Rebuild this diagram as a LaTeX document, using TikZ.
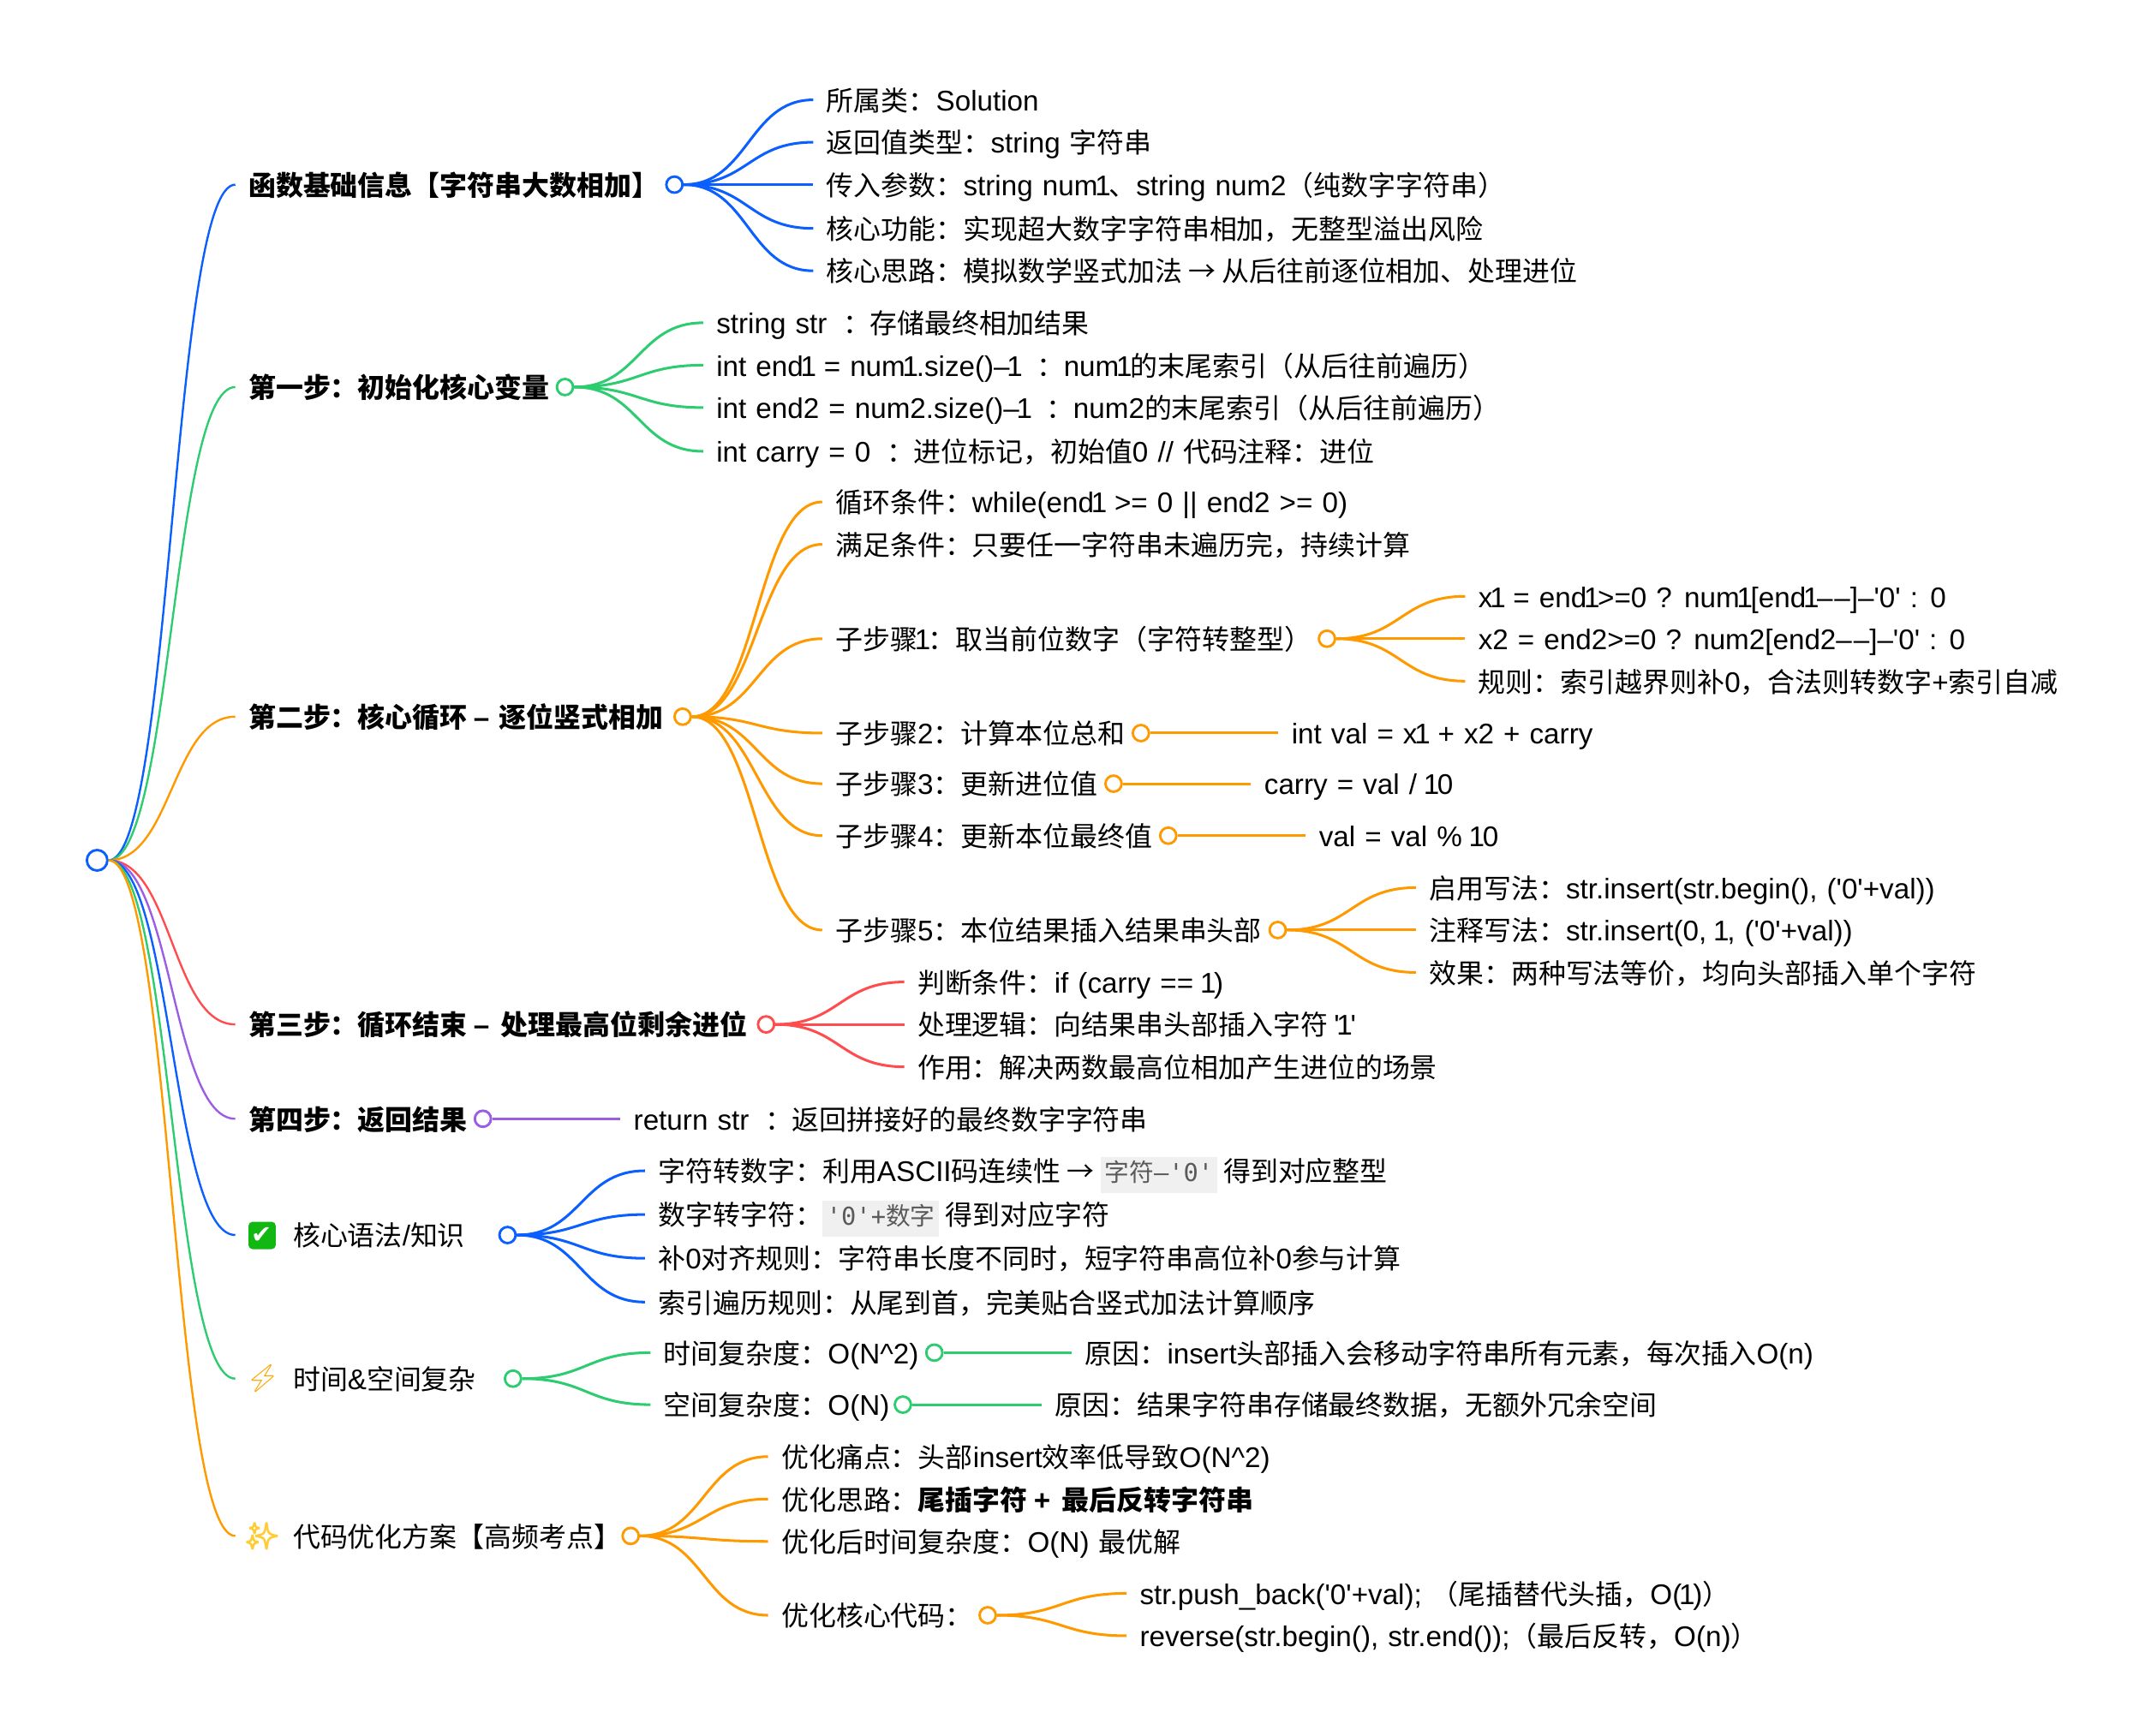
\documentclass[tikz,border=0pt]{standalone}
\usepackage{fontspec}
\usepackage{xcolor}
\usetikzlibrary{calc}
\newfontface\latr{Liberation Sans}[Scale=1.04,WordSpace=1.2]
\newfontface\latb{Liberation Sans Bold}[Scale=1.04,WordSpace=1.2]
\newfontface\monor{DejaVu Sans Mono}
\newfontfamily\cjkr{Noto Sans CJK SC}
\newfontfamily\emojif{Noto Emoji}
\newfontfamily\emojib{Noto Emoji}[FakeBold=4.5]
\newfontfamily\dejav{DejaVu Sans}
\def\cjkf{\cjkr}
\def\latf{\latr}
\newXeTeXintercharclass\cjkclass
\newXeTeXintercharclass\oneclass
\newcount\cnt
\newcommand\markrange[2]{\cnt=#1\relax
  \loop\XeTeXcharclass\cnt=\cjkclass\relax
  \ifnum\cnt<#2\relax\advance\cnt by 1\repeat}
\markrange{"3000}{"303F}
\markrange{"4E00}{"9FFF}
\markrange{"FF00}{"FFEF}
\XeTeXcharclass"2192=\cjkclass
\XeTeXcharclass`1=\oneclass
\XeTeXinterchartoks 0 \cjkclass={\cjkf}
\XeTeXinterchartoks 4095 \cjkclass={\cjkf}
\XeTeXinterchartoks \cjkclass 0={\latf}
\XeTeXinterchartoks 4095 0={\latf}
\XeTeXinterchartoks 0 \oneclass={\kern-2pt }
\XeTeXinterchartoks \cjkclass \oneclass={\latf\kern-2pt }
\XeTeXinterchartoks 4095 \oneclass={\latf\kern-2pt }
\XeTeXinterchartoks \oneclass 0={\kern-1.5pt }
\XeTeXinterchartoks \oneclass \cjkclass={\kern-1.5pt \cjkf}
\XeTeXinterchartoks \oneclass 4095={\kern-1.5pt }
\XeTeXinterchartoks \oneclass \oneclass={\kern-3.5pt }
\XeTeXinterchartokenstate=1
\newcommand\bld[1]{{\def\cjkf{\cjkr\bfseries}\def\latf{\latb}#1}}
\newcommand\dd{–\kern1.2pt–}
\newcommand\cc{\kern5pt：\kern-5pt{} }
\definecolor{cblue}{HTML}{0B5FFF}
\definecolor{cgreen}{HTML}{2ECC71}
\definecolor{corange}{HTML}{FF9900}
\definecolor{cred}{HTML}{FF4D4F}
\definecolor{cpurple}{HTML}{9B5DE5}
\definecolor{codebg}{HTML}{F0F0F0}
\definecolor{codefg}{HTML}{5A5A5A}
\definecolor{okgreen}{HTML}{12B812}
\definecolor{boltc}{HTML}{FFA500}
\definecolor{sparkc}{HTML}{FFCC33}
\newcommand\code[1]{\begingroup\setlength\fboxsep{3pt}\colorbox{codebg}{\color{codefg}\def\latf{\monor}\fontsize{18}{20}\selectfont\rule[-5pt]{0pt}{20pt}#1}\endgroup}
\newcommand\lnk[3]{\draw[#1] let \p1=(#2),\p2=(#3),\n1={.5*(\x1+\x2)} in (\p1) .. controls (\n1,\y1) and (\n1,\y2) .. (\p2);}
\tikzset{
  x=1pt,y=-1pt,
  txt/.style={anchor=west,inner ysep=0pt,inner xsep=9.5pt,text height=16pt,text depth=0pt,font=\fontsize{20}{24}\selectfont\latr},
  dot/.style={circle,draw,fill=white,line width=1.8pt,inner sep=0pt,minimum size=11.8pt},
  stem/.style={line width=1.5pt},
  twig/.style={line width=1.9pt},
  icon/.style={inner sep=0pt},
}
\begin{document}
\begin{tikzpicture}
\useasboundingbox (0,0) rectangle (1568,1268.7);
% coordinates of main branch ends
\coordinate (c6) at (172,903);
\coordinate (c7) at (172,1008);
\coordinate (c8) at (172,1123);
% main labels
\node[txt] (m1) at (172,135) {\bld{函数基础信息【字符串大数相加】}};
\node[txt] (m2) at (172,283) {\bld{第一步：初始化核心变量}};
\node[txt] (m3) at (172,524) {\bld{第二步：核心循环 – 逐位竖式相加}};
\node[txt] (m4) at (172,749) {\bld{第三步：循环结束 – 处理最高位剩余进位}};
\node[txt] (m5) at (172,818) {\bld{第四步：返回结果}};
\node[icon,rounded corners=3pt,fill=okgreen,text=white,minimum size=20pt,font=\fontsize{18}{18}\selectfont] (i6) at (191.6,903.3) {\def\latf{\dejav}✔};
\node[icon,text=boltc,font=\fontsize{20}{20}\selectfont] (i7) at (192,1008) {\def\latf{\emojif}⚡};
\node[icon,text=sparkc,font=\fontsize{19}{19}\selectfont] (i8) at (191.5,1123) {\def\latf{\emojib}✨};
\node[txt] (m6) at (204.5,903) {核心语法/知识};
\node[txt] (m7) at (204.5,1008) {时间\&空间复杂};
\node[txt] (m8) at (204.5,1123) {代码优化方案【高频考点】};
% dots
\node[dot,draw=cblue,minimum size=15pt] (r) at (71,629) {};
\node[dot,draw=cblue] (d1) at (493,135) {};
\node[dot,draw=cgreen] (d2) at (413,283) {};
\node[dot,draw=corange] (d3) at (499,524) {};
\node[dot,draw=cred] (d4) at (560,749) {};
\node[dot,draw=cpurple] (d5) at (353,818) {};
\node[dot,draw=cblue] (d6) at (371,903) {};
\node[dot,draw=cgreen] (d7) at (375,1008) {};
\node[dot,draw=corange] (d8) at (461,1123) {};
\node[dot,draw=corange] (d31) at (970,467) {};
\node[dot,draw=corange] (d32) at (834,536) {};
\node[dot,draw=corange] (d33) at (814,573) {};
\node[dot,draw=corange] (d34) at (854,611) {};
\node[dot,draw=corange] (d35) at (934,680) {};
\node[dot,draw=cgreen] (d71) at (683,989) {};
\node[dot,draw=cgreen] (d72) at (660,1027) {};
\node[dot,draw=corange] (d84) at (722,1181) {};
% branch 1
\node[txt] (a1) at (594.5,73) {所属类：Solution};
\node[txt] (a2) at (594.5,104) {返回值类型：string 字符串};
\node[txt] (a3) at (594.5,135) {传入参数：string num1、string num2（纯数字字符串）};
\node[txt] (a4) at (594.5,167) {核心功能：实现超大数字字符串相加，无整型溢出风险};
\node[txt] (a5) at (594.5,198) {核心思路：模拟数学竖式加法 → 从后往前逐位相加、处理进位};
% branch 2
\node[txt] (b1) at (514,236) {string str \cc 存储最终相加结果};
\node[txt] (b2) at (514,267) {int end1 = num1.size()–1 \cc num1的末尾索引（从后往前遍历）};
\node[txt] (b3) at (514,298) {int end2 = num2.size()–1 \cc num2的末尾索引（从后往前遍历）};
\node[txt] (b4) at (514,330) {int carry = 0 \cc 进位标记，初始值0 // 代码注释：进位};
% branch 3
\node[txt] (e1) at (601,367) {循环条件：while(end1 >= 0 || end2 >= 0)};
\node[txt] (e2) at (601,398) {满足条件：只要任一字符串未遍历完，持续计算};
\node[txt] (e3) at (601,467) {子步骤1：取当前位数字（字符转整型）};
\node[txt] (e4) at (601,536) {子步骤2：计算本位总和};
\node[txt] (e5) at (601,573) {子步骤3：更新进位值};
\node[txt] (e6) at (601,611) {子步骤4：更新本位最终值};
\node[txt] (e7) at (601,680) {子步骤5：本位结果插入结果串头部};
\node[txt] (f1) at (1071,436) {x1 = end1>=0 ? num1[end1\dd]–'0' : 0};
\node[txt] (f2) at (1071,467) {x2 = end2>=0 ? num2[end2\dd]–'0' : 0};
\node[txt] (f3) at (1071,498) {规则：索引越界则补0，合法则转数字+索引自减};
\node[txt] (g1) at (934.5,536) {int val = x1 + x2 + carry};
\node[txt] (g2) at (914.5,573) {carry = val / 10};
\node[txt] (g3) at (954.5,611) {val = val \% 10};
\node[txt] (h1) at (1035,649) {启用写法：str.insert(str.begin(), ('0'+val))};
\node[txt] (h2) at (1035,680) {注释写法：str.insert(0, 1, ('0'+val))};
\node[txt] (h3) at (1035,711) {效果：两种写法等价，均向头部插入单个字符};
% branch 4
\node[txt] (j1) at (661,718) {判断条件：if (carry == 1)};
\node[txt] (j2) at (661,749) {处理逻辑：向结果串头部插入字符 '1'};
\node[txt] (j3) at (661,780) {作用：解决两数最高位相加产生进位的场景};
% branch 5
\node[txt] (k1) at (453.5,818) {return str \cc 返回拼接好的最终数字字符串};
% branch 6
\node[txt] (l1) at (471.5,856) {字符转数字：利用ASCII码连续性 → \code{字符–'0'} 得到对应整型};
\node[txt] (l2) at (471.5,888) {数字转字符：\code{'0'+数字} 得到对应字符};
\node[txt] (l3) at (471.5,920) {补0对齐规则：字符串长度不同时，短字符串高位补0参与计算};
\node[txt] (l4) at (471.5,952) {索引遍历规则：从尾到首，完美贴合竖式加法计算顺序};
% branch 7
\node[txt] (o1) at (475.5,989) {时间复杂度：O(N\^{}2)};
\node[txt] (o2) at (475.5,1027) {空间复杂度：O(N)};
\node[txt] (p1) at (783.5,989) {原因：insert头部插入会移动字符串所有元素，每次插入O(n)};
\node[txt] (p2) at (761.5,1027) {原因：结果字符串存储最终数据，无额外冗余空间};
% branch 8
\node[txt] (q1) at (561.5,1065) {优化痛点：头部insert效率低导致O(N\^{}2)};
\node[txt] (q2) at (561.5,1096) {优化思路：\bld{尾插字符 + 最后反转字符串}};
\node[txt] (q3) at (561.5,1127) {优化后时间复杂度：O(N) 最优解};
\node[txt] (q4) at (561.5,1181) {优化核心代码：};
\node[txt] (s1) at (823.5,1165) {str.push\_back('0'+val); （尾插替代头插，O(1)）};
\node[txt] (s2) at (823.5,1196) {reverse(str.begin(), str.end());（最后反转，O(n)）};
% connectors
\foreach \t/\c in {m1/cblue,m2/cgreen,m3/corange,m4/cred,m5/cpurple}{\lnk{stem,\c}{r.east}{\t.west}}
\lnk{stem,cblue}{r.east}{c6}
\lnk{stem,cgreen}{r.east}{c7}
\lnk{stem,corange}{r.east}{c8}
\foreach \t in {a1,a2,a3,a4,a5}{\lnk{twig,cblue}{d1.east}{\t.west}}
\foreach \t in {b1,b2,b3,b4}{\lnk{twig,cgreen}{d2.east}{\t.west}}
\foreach \t in {e1,e2,e3,e4,e5,e6,e7}{\lnk{twig,corange}{d3.east}{\t.west}}
\foreach \t in {f1,f2,f3}{\lnk{twig,corange}{d31.east}{\t.west}}
\foreach \t in {h1,h2,h3}{\lnk{twig,corange}{d35.east}{\t.west}}
\draw[twig,corange] (d32.east) -- (g1.west);
\draw[twig,corange] (d33.east) -- (g2.west);
\draw[twig,corange] (d34.east) -- (g3.west);
\foreach \t in {j1,j2,j3}{\lnk{twig,cred}{d4.east}{\t.west}}
\draw[twig,cpurple] (d5.east) -- (k1.west);
\foreach \t in {l1,l2,l3,l4}{\lnk{twig,cblue}{d6.east}{\t.west}}
\foreach \t in {o1,o2}{\lnk{twig,cgreen}{d7.east}{\t.west}}
\draw[twig,cgreen] (d71.east) -- (p1.west);
\draw[twig,cgreen] (d72.east) -- (p2.west);
\foreach \t in {q1,q2,q3,q4}{\lnk{twig,corange}{d8.east}{\t.west}}
\foreach \t in {s1,s2}{\lnk{twig,corange}{d84.east}{\t.west}}
\end{tikzpicture}
\end{document}
